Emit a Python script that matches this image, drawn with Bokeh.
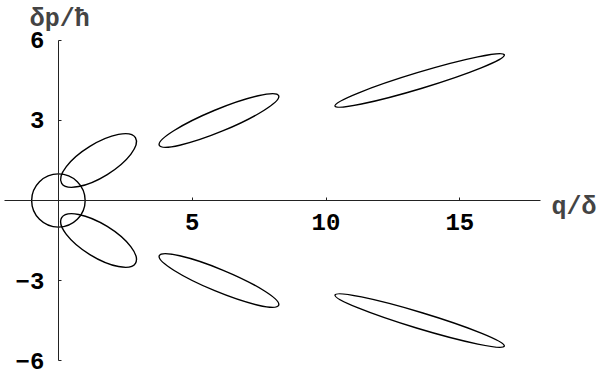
from bokeh.plotting import figure
from bokeh.models import FixedTicker, Range1d, Label
from bokeh.embed import file_html
from bokeh.resources import INLINE

# ellipse data (circle first, then upper and lower ellipses)
cx = [0.0, 1.5, 6.0, 13.5, 1.5, 6.0, 13.5]
cy = [0.0, 1.5, 3.0, 4.5, -1.5, -3.0, -4.5]
widths = [2.0, 3.24, 4.83, 6.61, 3.24, 4.83, 6.61]
heights = [2.0, 1.24, 0.83, 0.61, 1.24, 0.83, 0.61]
angles_deg = [0.0, 31.7, 22.5, 16.8, -31.7, -22.5, -16.8]

x_ticks = [5, 10, 15]
y_ticks = [-6, -3, 3, 6]
x_label = "q/δ"
y_label = "δp/ħ"

FONT = "Liberation Mono"

p = figure(width=606, height=375, output_backend="svg", toolbar_location=None,
           x_range=Range1d(-2.164, 20.482), y_range=Range1d(-6.562, 7.499),
           min_border=0)
p.outline_line_color = None
p.grid.visible = False
p.background_fill_color = "white"

p.ellipse(x=cx, y=cy, width=widths, height=heights, angle=angles_deg,
          angle_units="deg", fill_color=None, line_color="black", line_width=1.4)

for ax, ticks, bounds in ((p.xaxis[0], x_ticks, (-2.0, 18.0)),
                          (p.yaxis[0], y_ticks, (-6.0, 6.0))):
    ax.fixed_location = 0
    ax.ticker = FixedTicker(ticks=ticks)
    ax.bounds = bounds
    ax.axis_line_color = "#222222"
    ax.axis_line_width = 1
    ax.major_tick_line_color = "#222222"
    ax.major_tick_in = 3
    ax.major_tick_out = 0
    ax.minor_tick_line_color = None
    ax.major_label_text_font = FONT
    ax.major_label_text_font_style = "bold"
    ax.major_label_text_font_size = "24px"
    ax.major_label_text_color = "black"

p.xaxis.major_label_standoff = 14
p.yaxis.major_label_standoff = 14

p.add_layout(Label(x=18.43, y=-0.26, text=x_label, text_font=FONT,
                   text_font_style="bold", text_font_size="25px",
                   text_align="left", text_baseline="alphabetic"))
p.add_layout(Label(x=0.05, y=6.79, text=y_label, text_font=FONT,
                   text_font_style="bold", text_font_size="25px",
                   text_align="center", text_baseline="alphabetic"))

open("out.html", "w").write(file_html(p, INLINE))
